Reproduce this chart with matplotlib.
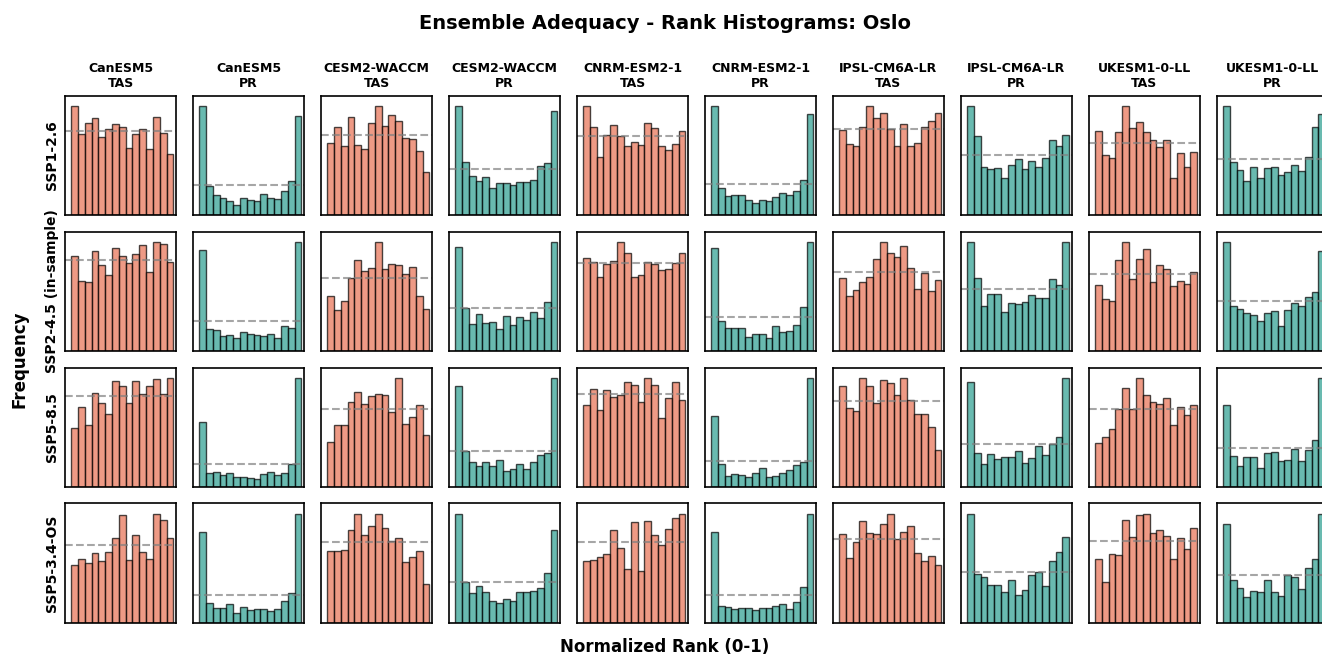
import numpy as np
import matplotlib
matplotlib.use("Agg")
import matplotlib.pyplot as plt

# rank-histogram densities (15 bins), one list per scenario:
# SSP1-2.6, SSP2-4.5 (in-sample), SSP5-8.5, SSP5-3.4-OS
SCENARIOS = ["SSP1-2.6", "SSP2-4.5 (in-sample)", "SSP5-8.5", "SSP5-3.4-OS"]
MODELS = ["CanESM5", "CESM2-WACCM", "CNRM-ESM2-1", "IPSL-CM6A-LR", "UKESM1-0-LL"]
N_BINS = 15

canesm5_tas = [
    [1.29, 0.96, 1.09, 1.15, 0.93, 1.02, 1.08, 1.05, 0.80, 0.96, 1.02, 0.78, 1.17, 0.98, 0.72],
    [1.04, 0.77, 0.75, 1.10, 0.94, 0.83, 1.13, 1.04, 0.96, 1.06, 1.16, 0.86, 1.19, 1.17, 0.97],
    [0.65, 0.88, 0.68, 1.04, 0.93, 0.81, 1.17, 1.12, 0.93, 1.17, 1.03, 1.12, 1.19, 1.03, 1.20],
    [0.75, 0.82, 0.77, 0.90, 0.80, 0.91, 1.10, 1.39, 0.81, 1.13, 0.91, 0.82, 1.40, 1.32, 1.10],
]
canesm5_pr = [
    [3.57, 0.95, 0.65, 0.57, 0.46, 0.31, 0.55, 0.49, 0.46, 0.68, 0.55, 0.53, 0.79, 1.11, 3.26],
    [3.43, 0.73, 0.70, 0.49, 0.53, 0.42, 0.65, 0.57, 0.55, 0.52, 0.58, 0.42, 0.84, 0.76, 3.68],
    [2.90, 0.61, 0.64, 0.52, 0.60, 0.43, 0.43, 0.39, 0.34, 0.55, 0.66, 0.52, 0.60, 1.00, 4.84],
    [3.29, 0.73, 0.52, 0.54, 0.67, 0.35, 0.56, 0.45, 0.49, 0.49, 0.43, 0.49, 0.80, 1.07, 3.94],
]
cesm2_tas = [
    [0.90, 1.10, 0.86, 1.22, 0.87, 0.82, 1.14, 1.35, 1.11, 1.25, 1.17, 0.96, 0.95, 0.80, 0.54],
    [0.75, 0.56, 0.68, 1.00, 1.25, 1.10, 1.14, 1.49, 1.13, 1.19, 1.18, 1.05, 1.15, 0.75, 0.57],
    [0.58, 0.80, 0.80, 1.10, 1.23, 1.07, 1.17, 1.20, 1.19, 0.97, 1.40, 0.81, 0.90, 1.06, 0.67],
    [0.89, 0.89, 0.90, 1.15, 1.35, 1.09, 1.21, 1.35, 1.18, 1.02, 1.05, 0.76, 0.82, 0.89, 0.48],
]
cesm2_pr = [
    [2.34, 1.15, 0.83, 0.73, 0.81, 0.58, 0.68, 0.68, 0.65, 0.71, 0.70, 0.75, 1.05, 1.12, 2.25],
    [2.42, 1.00, 0.62, 0.87, 0.64, 0.68, 0.51, 0.81, 0.61, 0.80, 0.73, 0.91, 0.76, 1.13, 2.53],
    [2.81, 1.00, 0.70, 0.59, 0.70, 0.59, 0.76, 0.44, 0.50, 0.64, 0.50, 0.69, 0.90, 0.94, 3.03],
    [2.69, 1.01, 0.73, 0.90, 0.76, 0.53, 0.49, 0.58, 0.55, 0.75, 0.75, 0.79, 0.87, 1.23, 2.31],
]
cnrm_tas = [
    [1.38, 1.12, 0.74, 1.02, 1.15, 1.00, 0.88, 0.93, 0.89, 1.17, 1.11, 0.88, 0.82, 0.90, 1.07],
    [1.06, 1.02, 0.84, 0.99, 1.03, 1.24, 1.12, 0.84, 0.87, 1.02, 0.99, 0.92, 0.94, 1.00, 1.12],
    [0.88, 1.06, 0.83, 1.04, 0.97, 0.99, 1.13, 1.10, 0.91, 1.17, 1.10, 0.74, 0.96, 1.13, 0.94],
    [0.77, 0.78, 0.82, 0.85, 1.15, 0.93, 0.67, 1.26, 0.65, 1.27, 1.09, 0.97, 1.17, 1.30, 1.35],
]
cnrm_pr = [
    [3.46, 0.85, 0.59, 0.63, 0.64, 0.47, 0.37, 0.48, 0.45, 0.56, 0.71, 0.63, 0.77, 1.12, 3.22],
    [3.06, 0.88, 0.68, 0.67, 0.67, 0.42, 0.51, 0.51, 0.37, 0.73, 0.55, 0.58, 0.77, 1.32, 3.24],
    [2.80, 0.89, 0.42, 0.49, 0.46, 0.38, 0.55, 0.72, 0.38, 0.43, 0.54, 0.66, 0.86, 0.96, 4.26],
    [3.21, 0.60, 0.56, 0.49, 0.51, 0.51, 0.44, 0.54, 0.51, 0.60, 0.67, 0.48, 0.74, 1.26, 3.85],
]
ipsl_tas = [
    [0.99, 0.82, 0.80, 1.02, 1.26, 1.13, 1.18, 1.00, 0.80, 1.06, 0.80, 0.84, 1.02, 1.09, 1.18],
    [0.93, 0.70, 0.77, 0.88, 0.94, 1.17, 1.38, 1.24, 1.19, 1.34, 1.05, 0.79, 0.99, 0.76, 0.90],
    [1.18, 0.92, 0.89, 1.27, 1.18, 0.98, 1.25, 1.21, 1.07, 1.27, 1.02, 0.85, 0.85, 0.70, 0.43],
    [1.06, 0.78, 0.97, 1.22, 1.07, 1.06, 1.18, 1.30, 1.00, 1.09, 1.16, 0.84, 0.74, 0.80, 0.69],
]
ipsl_pr = [
    [1.80, 1.31, 0.80, 0.77, 0.78, 0.61, 0.82, 0.92, 0.76, 0.90, 0.80, 0.94, 1.24, 1.15, 1.33],
    [1.74, 1.17, 0.72, 0.91, 0.91, 0.63, 0.76, 0.75, 0.78, 0.89, 0.84, 0.85, 1.16, 1.05, 1.74],
    [2.43, 0.78, 0.53, 0.76, 0.65, 0.69, 0.69, 0.83, 0.55, 0.67, 0.94, 0.74, 0.98, 1.16, 2.51],
    [2.13, 0.95, 0.89, 0.74, 0.74, 0.60, 0.83, 0.55, 0.65, 0.93, 1.00, 0.72, 1.21, 1.39, 1.68],
]
ukesm_tas = [
    [1.17, 0.83, 0.79, 1.15, 1.51, 1.21, 1.29, 1.15, 1.04, 0.94, 1.04, 0.51, 0.86, 0.67, 0.87],
    [0.85, 0.67, 0.65, 1.18, 1.41, 0.94, 1.20, 1.33, 0.90, 1.12, 1.06, 0.84, 0.91, 0.87, 1.03],
    [0.57, 0.64, 0.75, 1.01, 1.27, 1.00, 1.40, 1.19, 1.09, 1.07, 1.14, 0.80, 1.03, 0.93, 1.06],
    [0.77, 0.49, 0.84, 0.82, 1.25, 1.04, 1.31, 1.32, 1.09, 1.13, 1.06, 0.77, 1.03, 0.90, 1.15],
]
ukesm_pr = [
    [1.93, 0.94, 0.80, 0.61, 0.86, 0.65, 0.84, 0.86, 0.71, 0.76, 0.89, 0.79, 1.03, 1.57, 1.79],
    [2.16, 0.89, 0.83, 0.76, 0.72, 0.59, 0.75, 0.79, 0.50, 0.82, 0.95, 0.89, 1.07, 1.17, 1.99],
    [2.08, 0.78, 0.54, 0.75, 0.75, 0.48, 0.85, 0.88, 0.66, 0.68, 0.96, 0.66, 0.94, 1.20, 2.77],
    [2.06, 0.90, 0.72, 0.53, 0.66, 0.65, 0.90, 0.63, 0.55, 0.99, 0.95, 0.71, 1.14, 1.33, 2.26],
]

COLUMNS = [
    ("CanESM5", "TAS", canesm5_tas), ("CanESM5", "PR", canesm5_pr),
    ("CESM2-WACCM", "TAS", cesm2_tas), ("CESM2-WACCM", "PR", cesm2_pr),
    ("CNRM-ESM2-1", "TAS", cnrm_tas), ("CNRM-ESM2-1", "PR", cnrm_pr),
    ("IPSL-CM6A-LR", "TAS", ipsl_tas), ("IPSL-CM6A-LR", "PR", ipsl_pr),
    ("UKESM1-0-LL", "TAS", ukesm_tas), ("UKESM1-0-LL", "PR", ukesm_pr),
]
COLORS = {"TAS": "#E76F51", "PR": "#2A9D8F"}

edges = np.linspace(0, 1, N_BINS + 1)
centers = (edges[:-1] + edges[1:]) / 2

fig, axes = plt.subplots(len(SCENARIOS), len(COLUMNS), figsize=(13.22, 6.55), dpi=100)
fig.subplots_adjust(left=0.0492, right=1.0045, bottom=0.0493, top=0.854, wspace=0.153, hspace=0.14)

for j, (model, var, data) in enumerate(COLUMNS):
    for i, scen in enumerate(SCENARIOS):
        ax = axes[i, j]
        vals = np.asarray(data[i])
        ax.bar(centers, vals, width=1 / N_BINS, color=COLORS[var], alpha=0.7,
               edgecolor="black", linewidth=1.0)
        ax.axhline(1.0, color="gray", ls="--", lw=1.5, alpha=0.7)  # uniform expectation
        ax.set_xlim(-0.059, 1.026)
        ax.set_ylim(0, vals.max() * 1.1)
        ax.set_xticks([]); ax.set_yticks([])
        for sp in ax.spines.values():
            sp.set_linewidth(1.2)
        if i == 0:
            ax.set_title(f"{model}\n{var}", fontsize=9, fontweight="bold")
        if j == 0:
            ax.set_ylabel(scen, fontsize=10, fontweight="bold")

fig.suptitle("Ensemble Adequacy - Rank Histograms: Oslo", fontsize=14, fontweight="bold",
             x=0.503, y=0.979)
fig.text(0.015, 0.452, "Frequency", rotation=90, ha="center", va="center",
         fontsize=12, fontweight="bold")
fig.text(0.503, 0.012, "Normalized Rank (0-1)", ha="center", va="center",
         fontsize=12, fontweight="bold")

fig.savefig("out.png", dpi=100)
